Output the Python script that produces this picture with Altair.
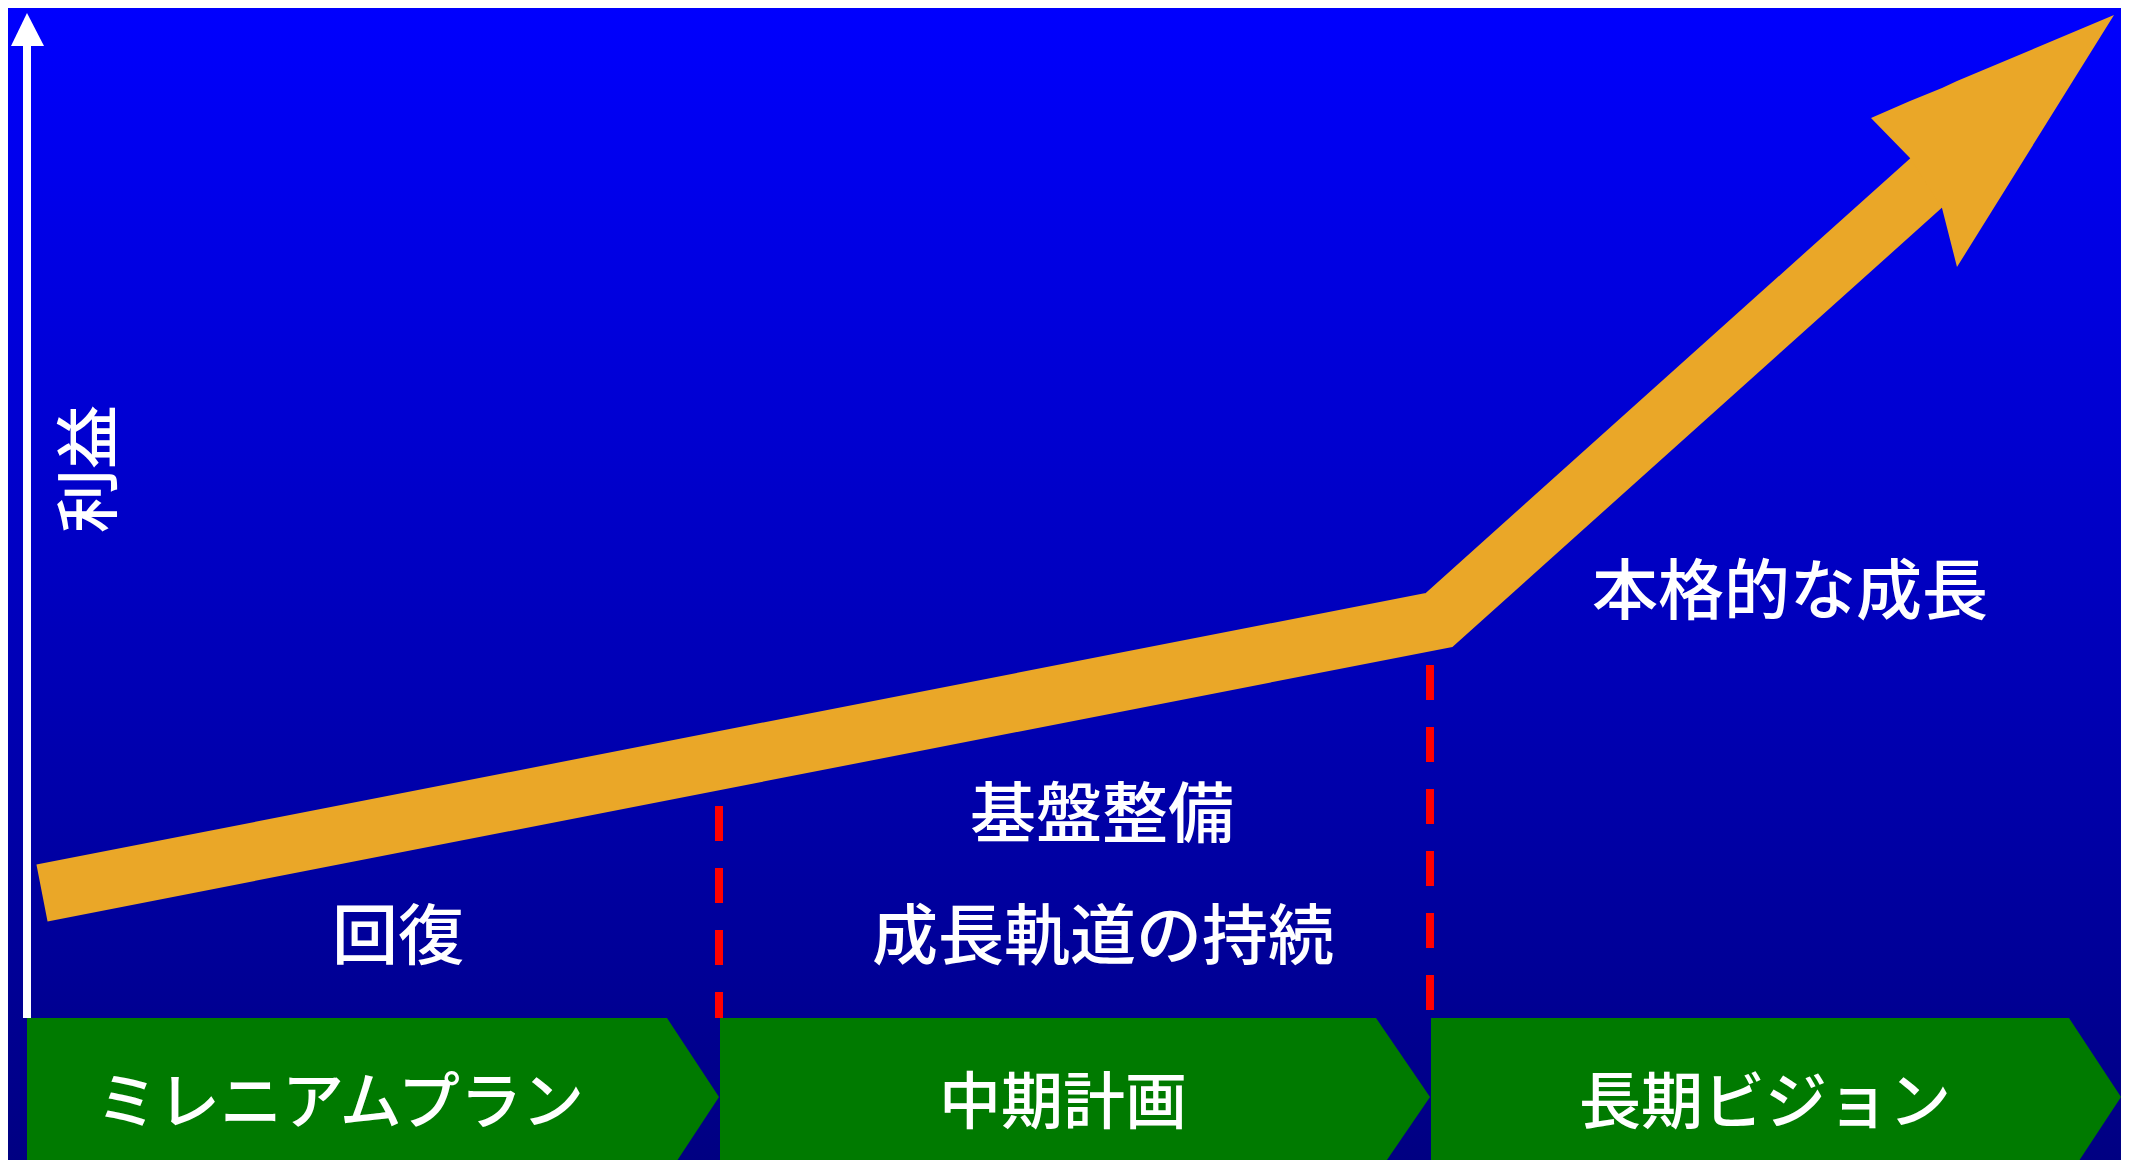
import altair as alt
import pandas as pd

# ---- canvas (data units = picture pixels) ----
W, H = 2113, 1152
X0, Y0 = 8, 8

# ---- profit arrow (centre line of the orange band) ----
path_x = [42, 1439, 1935]
path_y = [893, 620, 175]

# arrow head outline (top edge / bottom edge at each x)
head_x = [1871, 1910, 1942, 1957, 2114]
head_top = [118, 101, 88, 81, 15]
head_bot = [118, 158, 208, 267, 15]

# ---- vertical axis ("利益") ----
axis_x = 27
axis_top = 46
axis_bottom = 1018
axis_head_x = [11, 27, 44]
axis_head_top = [46, 13, 46]
axis_head_bot = [46, 46, 46]
axis_label = "利益"
axis_label_pos = (87, 469)

# ---- phase boundaries (red dashed) ----
bound_x = [719, 1430]
bound_top = [806, 665]
bound_bottom = [1018, 1037]

# ---- phase chevrons ----
phase_names = ["ミレニアムプラン", "中期計画", "長期ビジョン"]
phase_start = [27, 720, 1431]
phase_body_end = [667, 1376, 2069]
phase_tip = [719, 1430, 2121]
phase_label_x = [340, 1063, 1765]
band_top, band_bottom, band_mid = 1018, 1176, 1097
phase_label_y = 1100

# ---- annotations ----
labels = ["回復", "基盤整備", "成長軌道の持続", "本格的な成長"]
label_x = [398, 1102, 1103, 1790]
label_y = [934, 812, 934, 589]

ORANGE = "#EAA728"
GREEN = "#007A00"
RED = "#FF0000"
FONT = "Noto Sans CJK JP"
WEIGHT = 500

xs = alt.Scale(domain=[X0, X0 + W], nice=False, zero=False)
ys = alt.Scale(domain=[Y0, Y0 + H], nice=False, zero=False, reverse=True)


def X(f="x"):
    return alt.X(f"{f}:Q", scale=xs, axis=None)


def Y(f="y"):
    return alt.Y(f"{f}:Q", scale=ys, axis=None)


# background gradient
bg = alt.Chart(pd.DataFrame({"a": [0]})).mark_rect(
    color=alt.LinearGradient(
        gradient="linear",
        stops=[alt.GradientStop(color="#0000FE", offset=0),
               alt.GradientStop(color="#000082", offset=1)],
        x1=0, x2=0, y1=0, y2=1,
    )
).encode(x=alt.value(0), x2=alt.value(W), y=alt.value(0), y2=alt.value(H))

# white axis
axis_df = pd.DataFrame({"x": [axis_x], "y": [axis_top], "y2": [axis_bottom]})
axis_line = alt.Chart(axis_df).mark_rule(color="white", strokeWidth=8, clip=True).encode(
    x=X(), y=Y(), y2="y2:Q")
axis_head_df = pd.DataFrame({"x": axis_head_x, "y": axis_head_top, "y2": axis_head_bot})
axis_head = alt.Chart(axis_head_df).mark_area(color="white", orient="vertical", clip=True).encode(
    x=X(), y=Y(), y2="y2:Q")
axis_text = alt.Chart(pd.DataFrame({"x": [axis_label_pos[0]], "y": [axis_label_pos[1]], "t": [axis_label]})).mark_text(
    font=FONT, fontSize=64, fontWeight=WEIGHT, color="white", angle=270,
    align="center", baseline="alphabetic", dy=24).encode(x=X(), y=Y(), text="t:N")

# red dashed boundaries
bound_df = pd.DataFrame({"x": bound_x, "y": bound_top, "y2": bound_bottom})
bounds = alt.Chart(bound_df).mark_rule(color=RED, strokeWidth=8, strokeDash=[35, 27],
                                       strokeCap="butt", clip=True).encode(
    x=X(), y=Y(), y2="y2:Q")

# chevrons
rows = []
for i, n in enumerate(phase_names):
    rows.append({"phase": n, "x": phase_start[i], "y": band_top, "y2": band_bottom})
    rows.append({"phase": n, "x": phase_body_end[i], "y": band_top, "y2": band_bottom})
    rows.append({"phase": n, "x": phase_tip[i], "y": band_mid, "y2": band_mid})
chev_df = pd.DataFrame(rows)
chevrons = alt.Chart(chev_df).mark_area(color=GREEN, orient="vertical", clip=True).encode(
    x=X(), y=Y(), y2="y2:Q", detail="phase:N")
chev_text = alt.Chart(pd.DataFrame({"x": phase_label_x, "y": [phase_label_y] * 3, "t": phase_names})).mark_text(
    font=FONT, fontSize=62, fontWeight=WEIGHT, color="white", align="center",
    baseline="alphabetic", dy=24).encode(x=X(), y=Y(), text="t:N")

# orange growth arrow
shaft = alt.Chart(pd.DataFrame({"x": path_x, "y": path_y})).mark_line(
    color=ORANGE, strokeWidth=58, strokeCap="butt", strokeJoin="miter", clip=True).encode(
    x=X(), y=Y())
head = alt.Chart(pd.DataFrame({"x": head_x, "y": head_top, "y2": head_bot})).mark_area(
    color=ORANGE, orient="vertical", clip=True).encode(x=X(), y=Y(), y2="y2:Q")

# annotations
notes = alt.Chart(pd.DataFrame({"x": label_x, "y": label_y, "t": labels})).mark_text(
    font=FONT, fontSize=66, fontWeight=WEIGHT, color="white", align="center",
    baseline="alphabetic", dy=25).encode(x=X(), y=Y(), text="t:N")

chart = alt.layer(
    bg, axis_line, axis_head, axis_text, bounds, chevrons, chev_text, shaft, head, notes
).properties(
    width=W, height=H, padding=0,
    autosize=alt.AutoSizeParams(type="none"),
    background="#0000C0",
).configure_view(stroke=None)

chart.save("out.html", embed_options={"renderer": "svg", "actions": False})
